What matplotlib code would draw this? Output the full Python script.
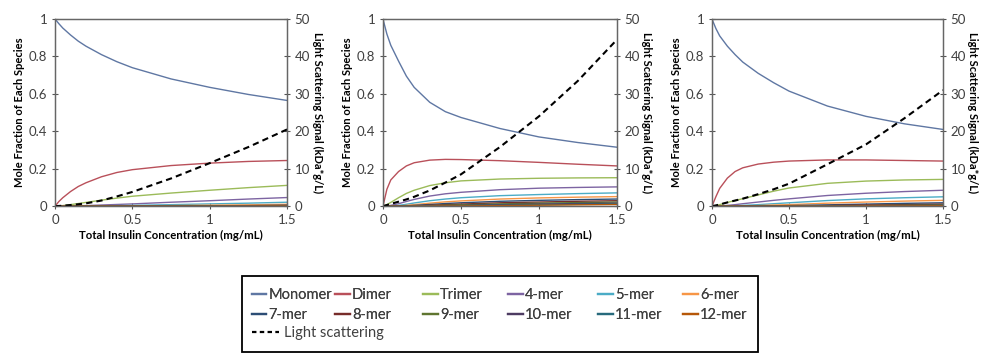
import matplotlib
matplotlib.use("Agg")
import matplotlib.pyplot as plt
from matplotlib.lines import Line2D
from matplotlib.patches import Rectangle

plt.rcParams['font.family'] = ['Lato', 'DejaVu Sans']

# total insulin concentration (mg/mL)
conc = [0, 0.025, 0.05, 0.1, 0.15, 0.2, 0.3, 0.4, 0.5, 0.75, 1.0, 1.25, 1.5]

species = ["Monomer", "Dimer", "Trimer", "4-mer", "5-mer", "6-mer",
           "7-mer", "8-mer", "9-mer", "10-mer", "11-mer", "12-mer"]
colors = ['#5f77a3', '#b9505a', '#9bbb59', '#7d64a2', '#4bacc6', '#f79646',
          '#2c4d75', '#772c2a', '#5f7530', '#4d3b62', '#276a7c', '#b65708']

# mole fractions, panel A (one row per species)
frac_a = [
    [1.0, 0.975, 0.952, 0.915, 0.882, 0.855, 0.81, 0.772, 0.74, 0.68, 0.635, 0.597, 0.565],
    [0, 0.025, 0.045, 0.078, 0.105, 0.125, 0.157, 0.18, 0.195, 0.217, 0.23, 0.239, 0.244],
    [0, 0.001, 0.003, 0.008, 0.014, 0.02, 0.032, 0.043, 0.053, 0.07, 0.085, 0.099, 0.111],
    [0, 0, 0, 0.001, 0.002, 0.003, 0.006, 0.009, 0.012, 0.021, 0.029, 0.038, 0.046],
    [0, 0, 0, 0, 0, 0.001, 0.002, 0.003, 0.004, 0.008, 0.012, 0.016, 0.021],
    [0, 0, 0, 0, 0, 0, 0, 0.001, 0.001, 0.003, 0.005, 0.007, 0.01],
    [0, 0, 0, 0, 0, 0, 0, 0, 0, 0.001, 0.002, 0.003, 0.005],
    [0, 0, 0, 0, 0, 0, 0, 0, 0, 0, 0.001, 0.002, 0.003],
    [0, 0, 0, 0, 0, 0, 0, 0, 0, 0, 0.001, 0.001, 0.002],
    [0, 0, 0, 0, 0, 0, 0, 0, 0, 0, 0, 0.001, 0.001],
    [0, 0, 0, 0, 0, 0, 0, 0, 0, 0, 0, 0, 0.001],
    [0, 0, 0, 0, 0, 0, 0, 0, 0, 0, 0, 0, 0.001],
]
scatter_a = [0, 0.05, 0.12, 0.3, 0.5, 0.75, 1.5, 2.6, 3.8, 7.4, 11.5, 15.8, 20.5]

# panel B
frac_b = [
    [1.0, 0.92, 0.86, 0.775, 0.695, 0.635, 0.555, 0.505, 0.474, 0.415, 0.37, 0.34, 0.315],
    [0, 0.09, 0.14, 0.185, 0.215, 0.232, 0.246, 0.25, 0.249, 0.243, 0.234, 0.224, 0.215],
    [0, 0.008, 0.02, 0.045, 0.068, 0.085, 0.11, 0.125, 0.135, 0.145, 0.149, 0.151, 0.152],
    [0, 0.001, 0.004, 0.013, 0.025, 0.036, 0.054, 0.066, 0.074, 0.088, 0.096, 0.1, 0.103],
    [0, 0, 0.001, 0.004, 0.01, 0.017, 0.029, 0.038, 0.045, 0.056, 0.062, 0.067, 0.071],
    [0, 0, 0, 0.001, 0.004, 0.008, 0.016, 0.023, 0.028, 0.038, 0.044, 0.048, 0.051],
    [0, 0, 0, 0, 0.002, 0.004, 0.009, 0.014, 0.018, 0.026, 0.031, 0.035, 0.038],
    [0, 0, 0, 0, 0.001, 0.002, 0.005, 0.008, 0.011, 0.018, 0.022, 0.026, 0.029],
    [0, 0, 0, 0, 0, 0.001, 0.003, 0.005, 0.007, 0.012, 0.016, 0.019, 0.022],
    [0, 0, 0, 0, 0, 0, 0.001, 0.002, 0.003, 0.008, 0.011, 0.014, 0.016],
    [0, 0, 0, 0, 0, 0, 0.001, 0.001, 0.002, 0.005, 0.008, 0.01, 0.012],
    [0, 0, 0, 0, 0, 0, 0, 0.001, 0.001, 0.003, 0.005, 0.007, 0.009],
]
scatter_b = [0, 0.3, 0.6, 1.2, 1.8, 2.5, 4.2, 6.3, 8.5, 15.8, 24.0, 33.5, 44.5]

# panel C
frac_c = [
    [1.0, 0.95, 0.91, 0.855, 0.81, 0.77, 0.71, 0.66, 0.615, 0.535, 0.48, 0.44, 0.41],
    [0, 0.05, 0.095, 0.15, 0.185, 0.205, 0.225, 0.235, 0.241, 0.247, 0.247, 0.244, 0.241],
    [0, 0.003, 0.008, 0.02, 0.03, 0.04, 0.06, 0.08, 0.097, 0.122, 0.134, 0.14, 0.143],
    [0, 0, 0.001, 0.004, 0.008, 0.013, 0.022, 0.031, 0.039, 0.057, 0.069, 0.078, 0.085],
    [0, 0, 0, 0.001, 0.002, 0.004, 0.008, 0.013, 0.018, 0.03, 0.039, 0.045, 0.05],
    [0, 0, 0, 0, 0.001, 0.001, 0.003, 0.006, 0.008, 0.016, 0.022, 0.027, 0.031],
    [0, 0, 0, 0, 0, 0, 0.001, 0.002, 0.003, 0.007, 0.011, 0.015, 0.018],
    [0, 0, 0, 0, 0, 0, 0, 0.001, 0.001, 0.003, 0.006, 0.008, 0.011],
    [0, 0, 0, 0, 0, 0, 0, 0, 0.001, 0.002, 0.003, 0.005, 0.007],
    [0, 0, 0, 0, 0, 0, 0, 0, 0, 0.001, 0.002, 0.003, 0.004],
    [0, 0, 0, 0, 0, 0, 0, 0, 0, 0.001, 0.001, 0.002, 0.003],
    [0, 0, 0, 0, 0, 0, 0, 0, 0, 0, 0.001, 0.001, 0.002],
]
scatter_c = [0, 0.2, 0.45, 1.0, 1.5, 2.0, 3.2, 4.5, 6.0, 11.2, 16.5, 23.5, 31.0]

panels = [(frac_a, scatter_a), (frac_b, scatter_b), (frac_c, scatter_c)]
lefts = [0.056, 0.3896, 0.7243]
widths = [0.236, 0.238, 0.235]

fig = plt.figure(figsize=(9.83, 3.53), dpi=100)
txt = '#404040'

for (fracs, scat), left, w in zip(panels, lefts, widths):
    ax = fig.add_axes([left, 0.416, w, 0.53])
    for vals, c in zip(fracs, colors):
        ax.plot(conc, vals, color=c, lw=1.0)
    ax.set_xlim(0, 1.5)
    ax.set_ylim(0, 1)
    ax.set_xticks([0, 0.5, 1, 1.5])
    ax.set_xticklabels(["0", "0.5", "1", "1.5"])
    ax.set_yticks([0, 0.2, 0.4, 0.6, 0.8, 1])
    ax.set_yticklabels(["0", "0.2", "0.4", "0.6", "0.8", "1"])
    ax.tick_params(direction='inout', length=5, width=0.8, labelsize=9.5,
                   colors='#555555', labelcolor=txt, pad=3)
    ax.set_xlabel("Total Insulin Concentration (mg/mL)", fontsize=8.2,
                  fontweight='bold', labelpad=3)
    ax.set_ylabel("Mole Fraction of Each Species", fontsize=8,
                  fontweight='bold', labelpad=3)
    for s in ax.spines.values():
        s.set_color('#666666')
        s.set_linewidth(0.9)

    ax2 = ax.twinx()
    ax2.plot(conc, scat, color='black', lw=1.5, ls=(0, (3, 2)))
    ax2.set_ylim(0, 50)
    ax2.set_yticks([0, 10, 20, 30, 40, 50])
    ax2.tick_params(direction='inout', length=5, width=0.8, labelsize=9.5,
                    colors='#555555', labelcolor=txt, pad=3)
    ax2.set_ylabel("Light Scattering Signal (kDa*g/L)", fontsize=8,
                   fontweight='bold', rotation=270, labelpad=9)
    for s in ax2.spines.values():
        s.set_color('#666666')
        s.set_linewidth(0.9)

# legend: one small legend per column, species in two rows
col_x = [0.2561, 0.3408, 0.4303, 0.5168, 0.6083, 0.6948]
for i, x in enumerate(col_x):
    hs = [Line2D([], [], color=colors[i], lw=1.6),
          Line2D([], [], color=colors[i + 6], lw=1.6)]
    leg = fig.legend(hs, [species[i], species[i + 6]], loc='center left',
                     bbox_to_anchor=(x, 0.135), frameon=False, fontsize=10.5,
                     handlelength=1.0, handletextpad=0.15, labelspacing=0.42,
                     borderpad=0, borderaxespad=0, labelcolor=txt)
    fig.add_artist(leg)
fig.legend([Line2D([], [], color='black', lw=1.6, ls=(0, (2, 1.5)))],
           ["Light scattering"], loc='center left',
           bbox_to_anchor=(0.2561, 0.057), frameon=False, fontsize=10.5,
           handlelength=1.9, handletextpad=0.3, borderpad=0,
           borderaxespad=0, labelcolor=txt)
fig.patches.append(Rectangle((0.246, 0.003), 0.525, 0.215,
                             transform=fig.transFigure, fill=False,
                             edgecolor='black', lw=1.3))

fig.savefig("out.png", dpi=100)
